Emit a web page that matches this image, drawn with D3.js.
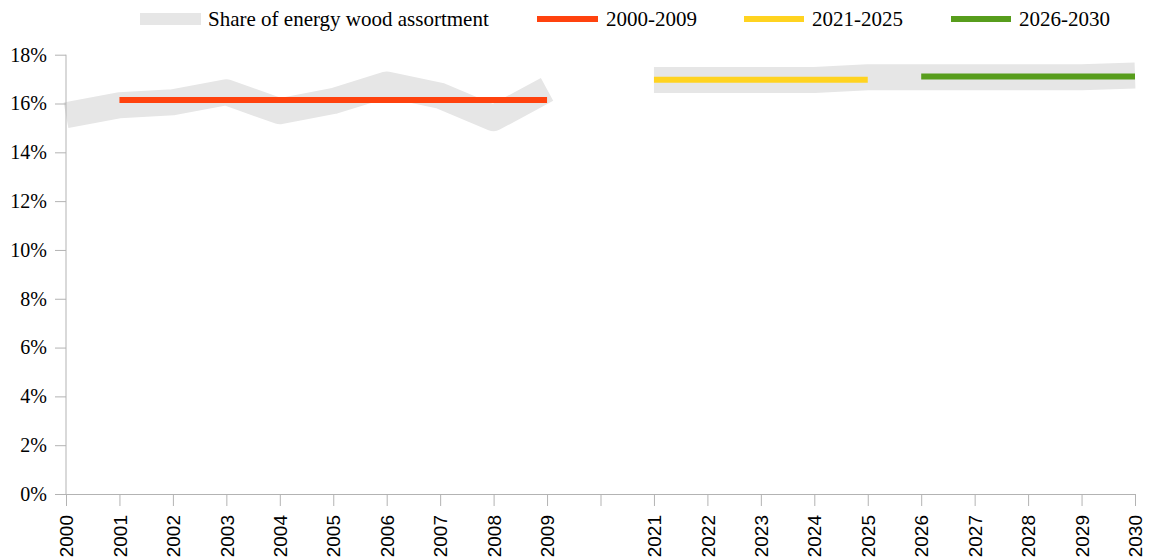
<!DOCTYPE html>
<html>
<head>
<meta charset="utf-8">
<script src="https://cdn.jsdelivr.net/npm/d3@7"></script>
<style>
  html, body { margin: 0; padding: 0; background: #fff; }
  svg { display: block; }
</style>
</head>
<body>
<svg id="chart" width="1149" height="558"></svg>
<script>
// ---- data ----
const categories = ["2000","2001","2002","2003","2004","2005","2006","2007","2008","2009"," ",
                    "2021","2022","2023","2024","2025","2026","2027","2028","2029","2030"];
// share of energy wood assortment (%), drawn as a wide band
const shareValues = [15.52,15.93,16.05,16.46,15.68,16.10,16.78,16.32,15.40,16.58,null,
                     16.96,16.96,16.96,16.96,17.08,17.08,17.08,17.08,17.08,17.15];
// period averages (%)
const avg2000_2009 = [null,16.14,16.14,16.14,16.14,16.14,16.14,16.14,16.14,16.14,null,
                      null,null,null,null,null,null,null,null,null,null];
const avg2021_2025 = [null,null,null,null,null,null,null,null,null,null,null,
                      16.97,16.97,16.97,16.97,16.97,null,null,null,null,null];
const avg2026_2030 = [null,null,null,null,null,null,null,null,null,null,null,
                      null,null,null,null,null,17.11,17.11,17.11,17.11,17.11];
const yTicks = [0,2,4,6,8,10,12,14,16,18];
const legendLabels = ["Share of energy wood assortment","2000-2009","2021-2025","2026-2030"];

// ---- chart ----
const svg = d3.select("#chart");
const axisColor = "#b3b3b3";
const colors = { band: "#e6e6e6", a: "#ff420e", b: "#ffd320", c: "#579d1c" };

const x = d3.scalePoint().domain(categories).range([66, 1135]);
const y = d3.scaleLinear().domain([0, 18]).range([494, 54.7]);

function series(vals) {
  return categories.map((c, i) => ({ c, v: vals[i] }));
}
const line = d3.line()
  .defined(d => d.v !== null)
  .x(d => x(d.c))
  .y(d => y(d.v));

// band
svg.append("path")
  .datum(series(shareValues))
  .attr("d", line)
  .attr("fill", "none")
  .attr("stroke", colors.band)
  .attr("stroke-width", 26)
  .attr("stroke-linecap", "butt")
  .attr("stroke-linejoin", "round");

[[avg2000_2009, colors.a], [avg2021_2025, colors.b], [avg2026_2030, colors.c]].forEach(([vals, col]) => {
  svg.append("path")
    .datum(series(vals))
    .attr("d", line)
    .attr("fill", "none")
    .attr("stroke", col)
    .attr("stroke-width", 6)
    .attr("stroke-linecap", "butt");
});

// y axis
const yAxis = svg.append("g").attr("transform", "translate(66,0)")
  .call(d3.axisLeft(y).tickValues(yTicks).tickSize(11).tickPadding(8).tickFormat(d => d + "%"));
yAxis.select(".domain").attr("stroke", axisColor).attr("d", `M0,${y(18)}V${y(0)}`);
yAxis.selectAll(".tick line").attr("stroke", axisColor);
yAxis.selectAll(".tick text")
  .attr("font-family", "'Liberation Serif', serif")
  .attr("font-size", 20)
  .attr("fill", "#000");

// x axis
const xAxis = svg.append("g").attr("transform", "translate(0,494)")
  .call(d3.axisBottom(x).tickSize(12).tickSizeOuter(0));
xAxis.select(".domain").attr("stroke", axisColor);
xAxis.selectAll(".tick line").attr("stroke", axisColor);
xAxis.selectAll(".tick text")
  .attr("font-family", "'Liberation Sans', sans-serif")
  .attr("font-size", 19)
  .attr("fill", "#000")
  .attr("text-anchor", "end")
  .attr("transform", "rotate(-90)")
  .attr("x", -21)
  .attr("y", 0)
  .attr("dy", "0.35em");

// legend
const legendItems = [
  { label: legendLabels[0], color: colors.band, x0: 140, w: 61, h: 12, tx: 208 },
  { label: legendLabels[1], color: colors.a, x0: 537, w: 61, h: 6, tx: 606 },
  { label: legendLabels[2], color: colors.b, x0: 744, w: 60, h: 6, tx: 812 },
  { label: legendLabels[3], color: colors.c, x0: 951, w: 60, h: 6, tx: 1019 }
];
const lg = svg.append("g");
legendItems.forEach(it => {
  lg.append("rect")
    .attr("x", it.x0).attr("y", 19 - it.h / 2)
    .attr("width", it.w).attr("height", it.h)
    .attr("fill", it.color);
  lg.append("text")
    .attr("x", it.tx).attr("y", 26)
    .attr("font-family", "'Liberation Serif', serif")
    .attr("font-size", 21)
    .attr("fill", "#000")
    .text(it.label);
});
</script>
</body>
</html>
